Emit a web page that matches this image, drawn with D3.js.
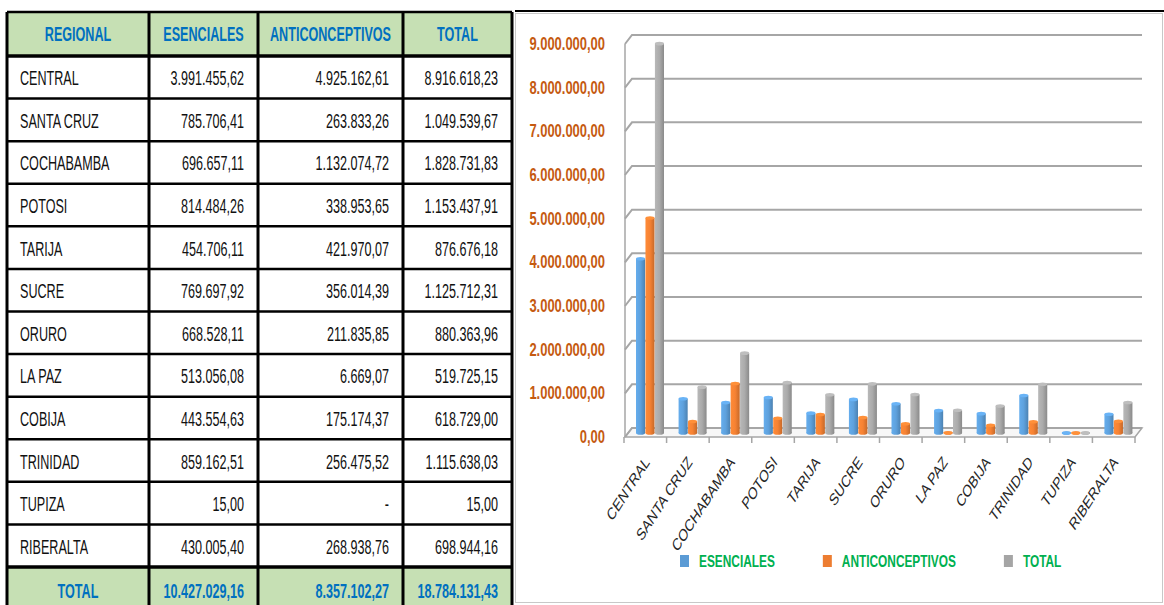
<!DOCTYPE html>
<html>
<head>
<meta charset="utf-8">
<style>
  body { margin: 0; background: #fff; }
  svg { display: block; }
  text { font-family: "Liberation Sans", Arial, sans-serif; }
</style>
</head>
<body>
<svg width="1164" height="605"></svg>
<script src="https://d3js.org/d3.v7.min.js"></script>
<script>

// data
var regions = ["CENTRAL", "SANTA CRUZ", "COCHABAMBA", "POTOSI", "TARIJA", "SUCRE",
               "ORURO", "LA PAZ", "COBIJA", "TRINIDAD", "TUPIZA", "RIBERALTA"];
var esenciales = [3991455.62, 785706.41, 696657.11, 814484.26, 454706.11, 769697.92,
                  668528.11, 513056.08, 443554.63, 859162.51, 15.00, 430005.40];
var anticonceptivos = [4925162.61, 263833.26, 1132074.72, 338953.65, 421970.07, 356014.39,
                       211835.85, 6669.07, 175174.37, 256475.52, 0, 268938.76];
var totales = [8916618.23, 1049539.67, 1828731.83, 1153437.91, 876676.18, 1125712.31,
               880363.96, 519725.15, 618729.00, 1115638.03, 15.00, 698944.16];
var series = ["ESENCIALES", "ANTICONCEPTIVOS", "TOTAL"];
var headers = ["REGIONAL", "ESENCIALES", "ANTICONCEPTIVOS", "TOTAL"];
var yTicks = [0, 1000000, 2000000, 3000000, 4000000, 5000000, 6000000, 7000000, 8000000, 9000000];

var seriesColor = { "ESENCIALES": "#5B9BD5", "ANTICONCEPTIVOS": "#ED7D31", "TOTAL": "#A5A5A5" };
var values = { "ESENCIALES": esenciales, "ANTICONCEPTIVOS": anticonceptivos, "TOTAL": totales };

var es = d3.formatLocale({ decimal: ",", thousands: ".", grouping: [3], currency: ["", ""] });
var fmt = es.format(",.2f");
function cellText(v) { return v === 0 ? "-" : fmt(v); }

var svg = d3.select("svg");

// everything in the picture is squeezed sideways, so text gets a scaleX
function squeezed(g, x, y, sx, str) {
  return g.append("text")
    .attr("transform", "translate(" + x + "," + y + ") scale(" + sx + ",1)")
    .text(str);
}

// ---------------- TABLE ----------------
var colX = [7, 149, 258, 403, 512];
var headTop = 12, headBottom = 56, bodyBottom = 567, tableBottom = 612;
var row = d3.scaleBand().domain(regions).range([headBottom, bodyBottom]);
var tsx = 0.6, tfs = 21;

var table = svg.append("g");

table.append("rect").attr("x", colX[0]).attr("y", headTop)
  .attr("width", colX[4] - colX[0]).attr("height", headBottom - headTop).attr("fill", "#C6E0B4");
table.append("rect").attr("x", colX[0]).attr("y", bodyBottom)
  .attr("width", colX[4] - colX[0]).attr("height", tableBottom - bodyBottom).attr("fill", "#C6E0B4");

// header
headers.forEach(function(h, i) {
  squeezed(table, (colX[i] + colX[i + 1]) / 2, headTop + 29, tsx, h)
    .attr("text-anchor", "middle").attr("font-size", tfs).attr("font-weight", "bold")
    .attr("fill", "#0070C0");
});

// body
regions.forEach(function(r, i) {
  var yb = row(r) + row.bandwidth() / 2 + 8;
  squeezed(table, colX[0] + 13, yb, tsx, r).attr("font-size", tfs).attr("fill", "#111");
  [esenciales[i], anticonceptivos[i], totales[i]].forEach(function(v, j) {
    squeezed(table, colX[j + 2] - 14, yb, tsx, cellText(v))
      .attr("text-anchor", "end").attr("font-size", tfs).attr("fill", "#111");
  });
});

// total row
var totalRow = [d3.sum(esenciales), d3.sum(anticonceptivos), d3.sum(totales)];
var ybT = bodyBottom + 31;
squeezed(table, (colX[0] + colX[1]) / 2, ybT, tsx, "TOTAL")
  .attr("text-anchor", "middle").attr("font-size", tfs).attr("font-weight", "bold").attr("fill", "#0070C0");
totalRow.forEach(function(v, j) {
  squeezed(table, colX[j + 2] - 14, ybT, tsx, fmt(v))
    .attr("text-anchor", "end").attr("font-size", tfs).attr("font-weight", "bold").attr("fill", "#0070C0");
});

// grid lines of the table
var hLines = [headTop, headBottom].concat(regions.slice(1).map(function(r) { return row(r); })).concat([bodyBottom]);
table.selectAll("line.h").data(hLines).enter().append("line")
  .attr("x1", colX[0]).attr("x2", colX[4]).attr("y1", function(d) { return d; }).attr("y2", function(d) { return d; })
  .attr("stroke", "#000").attr("stroke-width", function(d) { return d === headBottom || d === bodyBottom ? 3.5 : 2.5; });
table.selectAll("line.v").data(colX).enter().append("line")
  .attr("x1", function(d) { return d; }).attr("x2", function(d) { return d; })
  .attr("y1", headTop).attr("y2", tableBottom)
  .attr("stroke", "#000").attr("stroke-width", 3);

// ---------------- CHART ----------------
var csx = 0.72;
var chart = svg.append("g");

chart.append("rect").attr("x", 515.5).attr("y", 13.5).attr("width", 647).attr("height", 589)
  .attr("fill", "#fff").attr("stroke", "#c8c8c8");
chart.append("line").attr("x1", 515).attr("x2", 1164).attr("y1", 11).attr("y2", 11)
  .attr("stroke", "#000").attr("stroke-width", 2);

var x0 = d3.scaleBand().domain(regions).range([624, 1135]);
var x1 = d3.scaleBand().domain(series).range([8, 36]).paddingInner(0.04);
var y = d3.scaleLinear().domain([0, 9000000]).range([437, 44]);
var dX = 7, dY = -9;           // depth of the 3d box
var mX = 4, mY = -4;           // bars sit halfway back

var gridColor = "#a6a6a6";
var left = x0.range()[0] + 1, right = x0.range()[1];

// floor
chart.append("path")
  .attr("d", "M" + left + "," + y(0) + "L" + right + "," + y(0) + "L" + (right + dX) + "," + (y(0) + dY) +
             "L" + (left + dX) + "," + (y(0) + dY) + "Z")
  .attr("fill", "#f7f7f7").attr("stroke", gridColor).attr("stroke-width", 1.5);

// gridlines on back wall + side wall diagonals
chart.selectAll("path.grid").data(yTicks).enter().append("path")
  .attr("d", function(v) {
    return "M" + left + "," + y(v) + "L" + (left + dX) + "," + (y(v) + dY) + "L" + (right + dX) + "," + (y(v) + dY);
  })
  .attr("fill", "none").attr("stroke", gridColor).attr("stroke-width", 2);

chart.append("line").attr("x1", left).attr("x2", left).attr("y1", y(0)).attr("y2", y(9000000))
  .attr("stroke", gridColor).attr("stroke-width", 1.5);

// y labels
yTicks.forEach(function(v) {
  squeezed(chart, 605, y(v) + 6, csx, fmt(v))
    .attr("text-anchor", "end").attr("font-size", 18).attr("font-weight", "bold").attr("fill", "#C55A11");
});

// category ticks
var tickXs = regions.map(function(r) { return x0(r); }).concat([right]);
chart.selectAll("line.tick").data(tickXs).enter().append("line")
  .attr("x1", function(d) { return d; }).attr("x2", function(d) { return d; })
  .attr("y1", y(0)).attr("y2", y(0) + 6).attr("stroke", gridColor).attr("stroke-width", 1.5);

// bar gradients
var defs = svg.append("defs");
series.forEach(function(s, i) {
  var c = d3.color(seriesColor[s]);
  var g = defs.append("linearGradient").attr("id", "grad" + i).attr("x1", 0).attr("x2", 1).attr("y1", 0).attr("y2", 0);
  g.append("stop").attr("offset", "0%").attr("stop-color", c.brighter(0.3));
  g.append("stop").attr("offset", "50%").attr("stop-color", c.brighter(0.1));
  g.append("stop").attr("offset", "100%").attr("stop-color", c.darker(0.5));
});

// bars
regions.forEach(function(r, i) {
  series.forEach(function(s, k) {
    var v = values[s][i];
    var bx = x0(r) + x1(s) + mX, w = x1.bandwidth();
    var top = y(v) + mY, base = y(0) + mY;
    var g = chart.append("g");
    g.append("ellipse").attr("cx", bx + w / 2).attr("cy", base).attr("rx", w / 2).attr("ry", 1.8)
      .attr("fill", "url(#grad" + k + ")");
    g.append("rect").attr("x", bx).attr("y", top).attr("width", w).attr("height", Math.max(0, base - top))
      .attr("fill", "url(#grad" + k + ")");
    g.append("ellipse").attr("cx", bx + w / 2).attr("cy", top).attr("rx", w / 2).attr("ry", 1.8)
      .attr("fill", d3.color(seriesColor[s]).brighter(0.4));
  });
});

// category labels
regions.forEach(function(r) {
  chart.append("text")
    .attr("transform", "translate(" + (x0(r) + x0.bandwidth() / 2 + 5) + "," + (y(0) + 26) + ") scale(" + csx + ",1) rotate(-48)")
    .attr("text-anchor", "end").attr("font-size", 17).attr("fill", "#262626")
    .text(r);
});

// legend
var lx = 680;
series.forEach(function(s) {
  chart.append("rect").attr("x", lx).attr("y", 555).attr("width", 9).attr("height", 12)
    .attr("fill", seriesColor[s]);
  var t = squeezed(chart, lx + 19, 567, csx, s)
    .attr("font-size", 16.5).attr("font-weight", "bold").attr("fill", "#00B050");
  lx += 19 + t.node().getComputedTextLength() * csx + 48;
});

</script>
</body>
</html>
